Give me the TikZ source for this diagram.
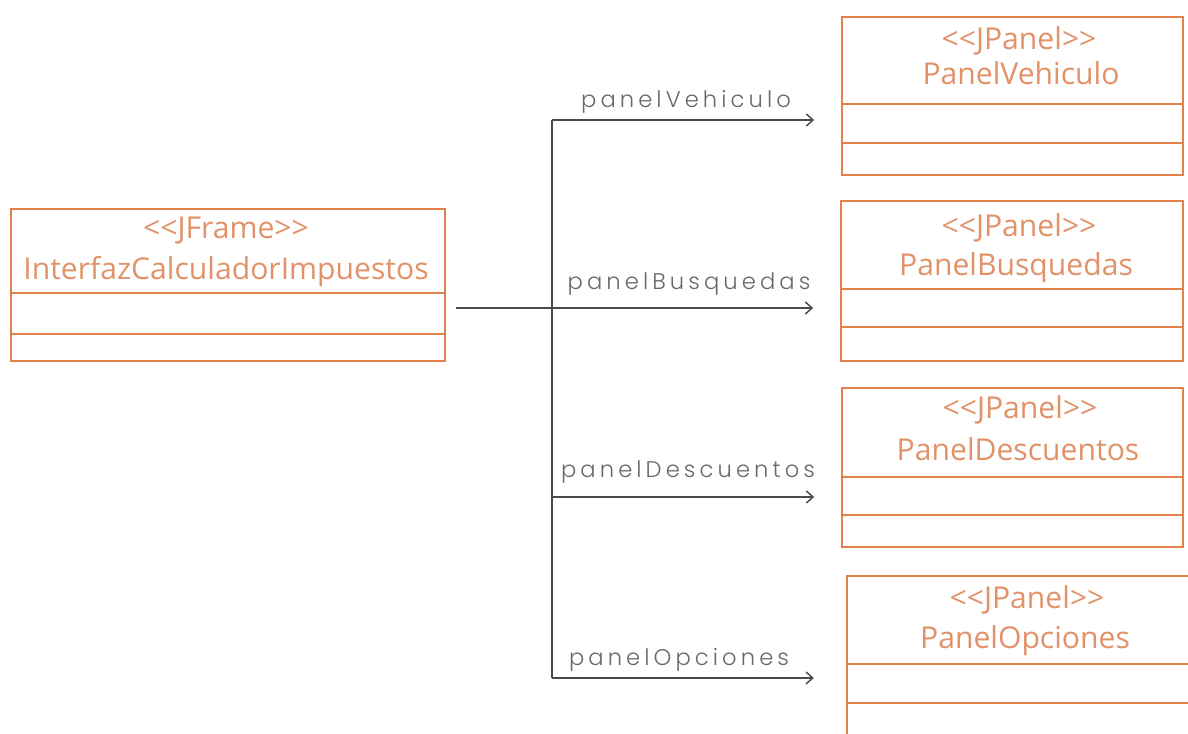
\documentclass[tikz,border=0pt]{standalone}
\usepackage{fontspec}
\setmainfont{Open Sans}[Ligatures=TeXOff]
\newfontfamily\lblfont{Poppins Light}[LetterSpace=18]
\usetikzlibrary{arrows.meta}
\definecolor{umlorange}{RGB}{228,128,78}
\definecolor{umltext}{RGB}{226,146,104}
\definecolor{linegray}{RGB}{75,75,75}
\definecolor{labelgray}{RGB}{105,105,105}
\begin{document}
\begin{tikzpicture}[x=0.75pt,y=-0.75pt,
  cls/.style={draw=umlorange, line width=1.8pt, inner sep=0pt, fill=white},
  divider/.style={draw=umlorange, line width=1.8pt},
  ctext/.style={anchor=base, text=umltext, inner sep=0pt, font=\fontsize{22.6}{27}\selectfont},
  conn/.style={draw=linegray, line width=1.1pt},
  arr/.style={conn, -{Straight Barb[length=5pt,width=9pt,line width=1.1pt]}, shorten >=20pt},
  lbl/.style={anchor=base, text=labelgray, inner sep=0pt, font=\lblfont\fontsize{17}{20}\selectfont}
]
\useasboundingbox (0,0) rectangle (1188,734);
\clip (0,0) rectangle (1188,734);
\fill[white] (0,0) rectangle (1188,734);

% class boxes
\node[cls, minimum width=434*0.75pt, minimum height=152*0.75pt] (frame) at (228,285) {};
\node[cls, minimum width=341*0.75pt, minimum height=158*0.75pt] (veh) at (1012.5,96) {};
\node[cls, minimum width=342*0.75pt, minimum height=160*0.75pt] (bus) at (1012,281) {};
\node[cls, minimum width=341*0.75pt, minimum height=159*0.75pt] (des) at (1012.5,467.5) {};
\node[cls, minimum width=345*0.75pt, minimum height=159*0.75pt] (opc) at (1019.5,655.5) {};

% dividers
\draw[divider] (frame.west |- 0,293) -- (frame.east |- 0,293);
\draw[divider] (frame.west |- 0,334) -- (frame.east |- 0,334);
\draw[divider] (veh.west |- 0,104) -- (veh.east |- 0,104);
\draw[divider] (veh.west |- 0,143) -- (veh.east |- 0,143);
\draw[divider] (bus.west |- 0,289) -- (bus.east |- 0,289);
\draw[divider] (bus.west |- 0,327) -- (bus.east |- 0,327);
\draw[divider] (des.west |- 0,477) -- (des.east |- 0,477);
\draw[divider] (des.west |- 0,515) -- (des.east |- 0,515);
\draw[divider] (opc.west |- 0,664) -- (opc.east |- 0,664);
\draw[divider] (opc.west |- 0,703) -- (opc.east |- 0,703);

% class texts
\node[ctext] (frameS) at (226,239) {<<JFrame>>};
\node[ctext] (frameN) at (226,280) {InterfazCalculadorImpuestos};
\node[ctext] (vehS) at (1019,50) {<<JPanel>>};
\node[ctext] (vehN) at (1021,85) {PanelVehiculo};
\node[ctext] (busS) at (1019,237) {<<JPanel>>};
\node[ctext] (busN) at (1016,276) {PanelBusquedas};
\node[ctext] (desS) at (1020,418) {<<JPanel>>};
\node[ctext] (desN) at (1018,460) {PanelDescuentos};
\node[ctext] (opcS) at (1027,608) {<<JPanel>>};
\node[ctext] (opcN) at (1025,648) {PanelOpciones};

% connectors
\coordinate (tV) at (552,120);
\coordinate (tB) at (552,308);
\coordinate (tD) at (552,497);
\coordinate (tO) at (552,678);
\draw[conn] (tV) -- (tO);
\draw[conn, shorten <=7.5pt] (frame.east |- tB) -- (tB);
\draw[arr] (tV) -- (tV -| veh.west);
\draw[arr] (tB) -- (tB -| bus.west);
\draw[arr] (tD) -- (tD -| des.west);
\draw[arr, shorten >=24pt] (tO) -- (tO -| opc.west);

% labels
\node[lbl] (lV) at (686,108) {panelVehiculo};
\node[lbl] (lB) at (689,290) {panelBusquedas};
\node[lbl] (lD) at (688,477) {panelDescuentos};
\node[lbl] (lO) at (679,665) {panelOpciones};
\end{tikzpicture}
\end{document}
